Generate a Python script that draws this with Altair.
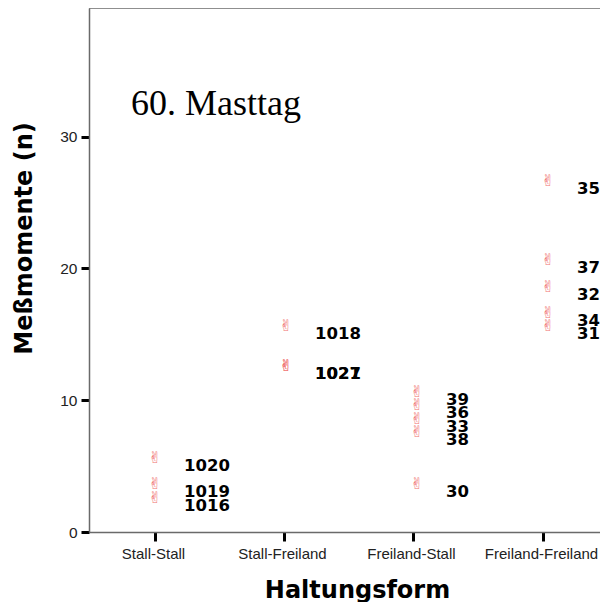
import json
import altair as alt
import pandas as pd

categories = ["Stall-Stall", "Stall-Freiland", "Freiland-Stall", "Freiland-Freiland"]
# axis tick positions (in category units)
tick_positions = [0, 0.985, 1.969, 2.962]

groups = [
    "Stall-Stall", "Stall-Stall", "Stall-Stall",
    "Stall-Freiland", "Stall-Freiland", "Stall-Freiland",
    "Freiland-Stall", "Freiland-Stall", "Freiland-Stall", "Freiland-Stall", "Freiland-Stall",
    "Freiland-Freiland", "Freiland-Freiland", "Freiland-Freiland", "Freiland-Freiland", "Freiland-Freiland",
]
values = [5, 3, 2, 15, 12, 12, 10, 9, 8, 7, 3, 26, 20, 18, 16, 15]
labels = ["1020", "1019", "1016", "1018", "1027", "1021",
          "39", "36", "33", "38", "30", "35", "37", "32", "34", "31"]

y_ticks = [0, 10, 20, 30]
annotation = ["60. Masttag"]

W = 511
H = 524
STEP = 131.0
FIRST = 66.0
FRAME = "#6a6a6a"

df = pd.DataFrame({
    "group": groups,
    "idx": [categories.index(g) for g in groups],
    "value": values,
    "label": labels,
})

label_expr = json.dumps(categories) + "[round(datum.value)]"

x_enc = alt.X(
    "idx:Q",
    scale=alt.Scale(domain=[-FIRST / STEP, (W - FIRST) / STEP], nice=False, zero=False),
    axis=alt.Axis(
        values=tick_positions,
        labelExpr=label_expr,
        title="Haltungsform",
        titleFont="DejaVu Sans",
        titleFontSize=24,
        titleFontWeight="bold",
        titleColor="black",
        titleX=268,
        titleY=65,
        titleAlign="center",
        titleBaseline="alphabetic",
        labelFont="Liberation Sans",
        labelFontSize=15,
        labelColor="#222222",
        labelPadding=5,
        labelOffset=-2,
        tickColor="black",
        tickWidth=3,
        tickSize=9,
        domain=True,
        domainColor=FRAME,
        domainWidth=1.5,
        grid=False,
    ),
)
y_enc = alt.Y(
    "value:Q",
    scale=alt.Scale(domain=[0, 39.77], nice=False, zero=True),
    axis=alt.Axis(
        values=y_ticks,
        title="Meßmomente (n)",
        titleFont="DejaVu Sans",
        titleFontSize=24,
        titleFontWeight="bold",
        titleColor="black",
        titleAngle=270,
        titleX=-65,
        titleY=230,
        titleAlign="center",
        titleBaseline="middle",
        labelFont="Liberation Sans",
        labelFontSize=15.5,
        labelColor="#222222",
        labelPadding=4,
        tickColor="black",
        tickWidth=3,
        tickSize=8,
        domain=True,
        domainColor=FRAME,
        domainWidth=1.5,
        grid=False,
    ),
)

base = alt.Chart(df)

points = base.mark_text(
    text="\u270c", font="DejaVu Sans", fontSize=16, color="#f07070",
    align="center", baseline="middle", dy=-8,
).encode(x=x_enc, y=y_enc)

texts = base.mark_text(
    font="DejaVu Sans", fontWeight="bold", fontSize=16.5, color="black",
    align="left", baseline="middle", dx=29,
).encode(x=x_enc, y=y_enc, text="label:N")

title_text = alt.Chart(pd.DataFrame({"t": annotation})).mark_text(
    font="Liberation Serif", fontSize=36, color="black",
    align="left", baseline="alphabetic",
).encode(x=alt.value(42), y=alt.value(107), text="t:N")

top_line = alt.Chart(pd.DataFrame({"t": [0]})).mark_rule(
    color=FRAME, strokeWidth=1.5,
).encode(x=alt.value(0), x2=alt.value(W), y=alt.value(0))

chart = (
    alt.layer(top_line, points, texts, title_text)
    .properties(
        width=W,
        height=H,
        autosize=alt.AutoSizeParams(type="none"),
        padding={"left": 81, "top": 0, "right": 0, "bottom": 70},
        background="white",
    )
    .configure_view(strokeWidth=0)
)

chart.save("out.html", embed_options={"renderer": "svg", "actions": False})
